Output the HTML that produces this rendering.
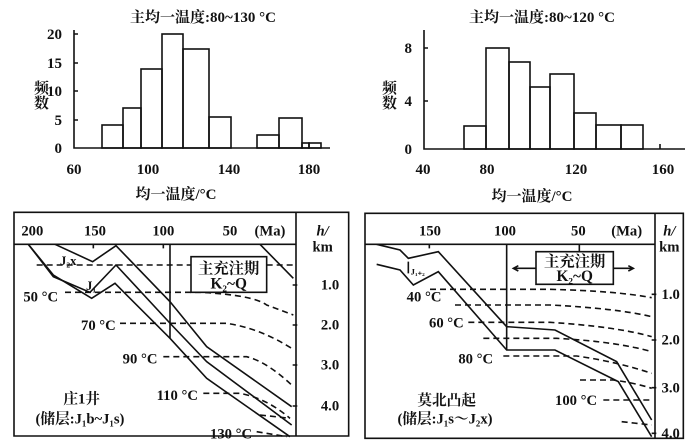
<!DOCTYPE html>
<html><head><meta charset="utf-8"><style>
body{margin:0;background:#fff}
svg{display:block}
text{font-family:"Liberation Serif","Noto Serif CJK SC",serif;font-weight:bold;fill:#111}
</style></head><body>
<svg width="700" height="446" viewBox="0 0 700 446" xmlns="http://www.w3.org/2000/svg">
<g stroke="#111" stroke-width="1.6" fill="none">
<path d="M74,30V148H330"/>
<path d="M74,34h4M74,63h4M74,91h4M74,120h4"/>
<rect x="102" y="125" width="21" height="23"/>
<rect x="123" y="108" width="18" height="40"/>
<rect x="141" y="69" width="21" height="79"/>
<rect x="162" y="34" width="21" height="114"/>
<rect x="183" y="49" width="26" height="99"/>
<rect x="209" y="117" width="22" height="31"/>
<rect x="257" y="135" width="22" height="13"/>
<rect x="279" y="118" width="23" height="30"/>
<rect x="302" y="143" width="7" height="5"/>
<rect x="309" y="143" width="12" height="5"/>
<path d="M424,30V149H685"/>
<path d="M424,48h4M424,101h4M660,144v5"/>
<rect x="464" y="126" width="22" height="23"/>
<rect x="486" y="48" width="23" height="101"/>
<rect x="509" y="62" width="21" height="87"/>
<rect x="530" y="87" width="20" height="62"/>
<rect x="550" y="74" width="24" height="75"/>
<rect x="574" y="113" width="22" height="36"/>
<rect x="596" y="125" width="25" height="24"/>
<rect x="621" y="125" width="22" height="24"/>
</g>
<g font-size="15">
<text x="203" y="22" text-anchor="middle">主均一温度:80~130 °C</text>
<text x="542" y="22" text-anchor="middle">主均一温度:80~120 °C</text>
<text x="62" y="39" text-anchor="end">20</text>
<text x="62" y="68" text-anchor="end">15</text>
<text x="62" y="96" text-anchor="end">10</text>
<text x="62" y="125" text-anchor="end">5</text>
<text x="62" y="153" text-anchor="end">0</text>
<text x="74" y="174" text-anchor="middle">60</text>
<text x="148" y="174" text-anchor="middle">100</text>
<text x="229" y="174" text-anchor="middle">140</text>
<text x="309" y="174" text-anchor="middle">180</text>
<text x="176" y="199" text-anchor="middle">均一温度/°C</text>
<text x="412" y="53" text-anchor="end">8</text>
<text x="412" y="106" text-anchor="end">4</text>
<text x="412" y="154" text-anchor="end">0</text>
<text x="423" y="174" text-anchor="middle">40</text>
<text x="487" y="174" text-anchor="middle">80</text>
<text x="576" y="174" text-anchor="middle">120</text>
<text x="663" y="174" text-anchor="middle">160</text>
<text x="532" y="201" text-anchor="middle">均一温度/°C</text>
<text x="40" y="80" writing-mode="tb">频数</text>
<text x="388" y="80" writing-mode="tb">频数</text>
</g>
<g transform="translate(0,205) scale(0.33333)">
<g stroke="#111" stroke-width="1.6" fill="none">
<rect x="42" y="22" width="1004" height="671" vector-effect="non-scaling-stroke"/>
<path d="M888,22V693M42,118H888" vector-effect="non-scaling-stroke"/>
<path d="M878,240h14M878,360h14M878,480h14M878,603h14" vector-effect="non-scaling-stroke"/>
<path d="M165,118L278,170L348,122L510,290L620,425L875,605" vector-effect="non-scaling-stroke"/>
<path d="M85,118L160,215L270,262L348,180L515,360L620,470L875,660" vector-effect="non-scaling-stroke"/>
<path d="M85,118L160,210L275,280L345,235L510,400L620,520L870,695" vector-effect="non-scaling-stroke"/>
<path d="M780,118L880,220M510,118V400M490,118v12M280,118v12" vector-effect="non-scaling-stroke"/>
<rect x="573" y="155" width="227" height="107" vector-effect="non-scaling-stroke"/>
<g stroke-dasharray="6,4">
<path d="M110,180H573M800,180H880" vector-effect="non-scaling-stroke"/>
<path d="M195,262H600Q760,270 800,300L880,330" vector-effect="non-scaling-stroke"/>
<path d="M360,355H680Q780,370 875,430" vector-effect="non-scaling-stroke"/>
<path d="M490,455H740Q800,470 875,540" vector-effect="non-scaling-stroke"/>
<path d="M610,565H720Q800,580 870,640" vector-effect="non-scaling-stroke"/>
<path d="M780,630L870,640M770,680L860,695" vector-effect="non-scaling-stroke"/>
</g>
</g>
<g font-size="44">
<text x="97" y="92" text-anchor="middle">200</text>
<text x="285" y="92" text-anchor="middle">150</text>
<text x="490" y="92" text-anchor="middle">100</text>
<text x="690" y="92" text-anchor="middle">50</text>
<text x="810" y="92" text-anchor="middle">(Ma)</text>
<text x="968" y="92" text-anchor="middle" font-style="italic">h/</text>
<text x="968" y="140" text-anchor="middle">km</text>
<text x="990" y="254" text-anchor="middle">1.0</text>
<text x="990" y="374" text-anchor="middle">2.0</text>
<text x="990" y="494" text-anchor="middle">3.0</text>
<text x="990" y="617" text-anchor="middle">4.0</text>
<text x="180" y="180" font-size="38">J₂x</text>
<text x="258" y="255" font-size="38">J₁</text>
<text x="70" y="290">50 °C</text>
<text x="243" y="375">70 °C</text>
<text x="368" y="475">90 °C</text>
<text x="470" y="585">110 °C</text>
<text x="630" y="700">130 °C</text>
<text x="245" y="595" text-anchor="middle">庄1井</text>
<text x="240" y="655" text-anchor="middle">(储层:J₁b~J₁s)</text>
<text x="686" y="205" text-anchor="middle" font-size="46">主充注期</text>
<text x="686" y="250" text-anchor="middle" font-size="46">K₂~Q</text>
</g>
</g>
<g transform="translate(350,205) scale(0.33333)">
<g stroke="#111" stroke-width="1.6" fill="none">
<rect x="45" y="25" width="955" height="675" vector-effect="non-scaling-stroke"/>
<path d="M915,25V700M45,118H915" vector-effect="non-scaling-stroke"/>
<path d="M905,268h14M905,405h14M905,548h14M905,685h14M238,118v12M688,118v22" vector-effect="non-scaling-stroke"/>
<path d="M80,118L150,135L175,160L265,140L470,365L615,375L800,470L905,645" vector-effect="non-scaling-stroke"/>
<path d="M80,178L150,195L190,240L265,200L470,435L615,435L805,530L905,695" vector-effect="non-scaling-stroke"/>
<path d="M470,118V435M175,170v35" vector-effect="non-scaling-stroke"/>
<rect x="558" y="140" width="232" height="98" vector-effect="non-scaling-stroke"/>
<path d="M495,190H558M790,190H850" vector-effect="non-scaling-stroke"/>
<path d="M505,182L490,190L505,198M835,182L850,190L835,198" vector-effect="non-scaling-stroke"/>
<g stroke-dasharray="6,4">
<path d="M240,253H600Q800,258 905,278" vector-effect="non-scaling-stroke"/>
<path d="M315,300H600Q800,310 905,335" vector-effect="non-scaling-stroke"/>
<path d="M355,352H600Q800,365 905,395" vector-effect="non-scaling-stroke"/>
<path d="M400,400H620Q800,410 905,440" vector-effect="non-scaling-stroke"/>
<path d="M460,453H680Q800,470 905,505" vector-effect="non-scaling-stroke"/>
<path d="M690,525H790Q860,535 905,550" vector-effect="non-scaling-stroke"/>
<path d="M760,585H905M815,650L905,660" vector-effect="non-scaling-stroke"/>
</g>
</g>
<g font-size="44">
<text x="240" y="92" text-anchor="middle">150</text>
<text x="465" y="92" text-anchor="middle">100</text>
<text x="685" y="92" text-anchor="middle">50</text>
<text x="830" y="92" text-anchor="middle">(Ma)</text>
<text x="958" y="92" text-anchor="middle" font-style="italic">h/</text>
<text x="958" y="140" text-anchor="middle">km</text>
<text x="962" y="282" text-anchor="middle">1.0</text>
<text x="962" y="419" text-anchor="middle">2.0</text>
<text x="962" y="562" text-anchor="middle">3.0</text>
<text x="962" y="699" text-anchor="middle">4.0</text>
<text x="182" y="208" font-size="26">J₁₊₂</text>
<text x="170" y="290">40 °C</text>
<text x="237" y="367">60 °C</text>
<text x="325" y="475">80 °C</text>
<text x="615" y="600">100 °C</text>
<text x="290" y="600" text-anchor="middle">莫北凸起</text>
<text x="285" y="655" text-anchor="middle">(储层:J₁s～J₂x)</text>
<text x="674" y="185" text-anchor="middle" font-size="46">主充注期</text>
<text x="674" y="228" text-anchor="middle" font-size="46">K₂~Q</text>
</g>
</g>
</svg>
</body></html>
